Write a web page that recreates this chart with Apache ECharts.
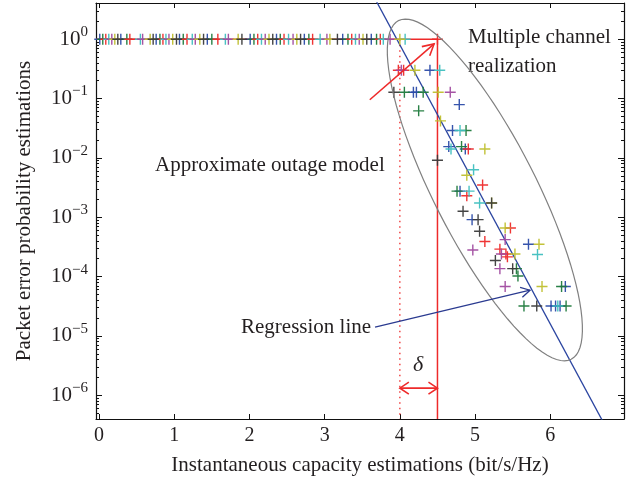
<!DOCTYPE html>
<html><head><meta charset="utf-8">
<script src="https://cdn.jsdelivr.net/npm/echarts@6/dist/echarts.min.js"></script>
<style>html,body{margin:0;padding:0;background:#fff}#c{width:635px;height:484px}</style>
</head><body><div id="c"></div>
<script>
// ---------- axes ----------
const xRange = [-0.04, 6.98];
const yRangeLog = [-6.40, 0.61];
const xTicks = [0, 1, 2, 3, 4, 5, 6];
const yDecades = [-6, -5, -4, -3, -2, -1, 0];

// ---------- channel realizations (capacity, packet error probability) ----------
const blueTop   = [0.01, 0.29, 0.76, 1.07, 1.44, 2.01, 2.36, 2.73, 3.24, 3.62];
const greenTop  = [0.05, 0.37, 0.81, 1.12, 1.50, 2.06, 2.41, 2.79, 3.31, 3.69];
const redTop    = [0.09, 0.41, 0.85, 1.17, 1.58, 2.11, 2.46, 2.84, 3.36, 3.74, 4.50];
const cyanTop   = [0.13, 0.55, 0.89, 1.24, 1.68, 2.16, 2.52, 2.94, 3.41, 3.78, 4.07];
const magentaTop= [0.17, 0.58, 0.93, 1.28, 1.72, 2.21, 2.58, 3.03, 3.46, 3.87];
const yellowTop = [0.21, 0.68, 0.98, 1.34, 1.85, 2.26, 2.63, 3.07, 3.51, 4.00];
const blackTop  = [0.25, 0.72, 1.03, 1.39, 1.90, 2.31, 2.68, 3.17, 3.56];

const blueCluster = [[4.40,0.30],[4.18,0.128],[4.22,0.128],[4.79,0.079],[4.70,0.029],[4.65,0.0155],[4.87,0.0141],[4.80,0.00275],[4.96,0.00091],[5.71,0.00035],[6.20,6.8e-5],[6.01,3.2e-5],[6.07,3.2e-5],[6.13,3.2e-5]];
const greenCluster = [[4.06,0.128],[4.31,0.128],[4.25,0.062],[4.88,0.029],[4.82,0.0155],[4.76,0.00275],[5.55,0.000136],[5.57,0.000102],[6.15,6.8e-5],[5.65,3.2e-5],[6.21,3.2e-5]];
const redCluster = [[3.98,0.30],[4.05,0.30],[4.91,0.0141],[5.10,0.0035],[4.89,0.0023],[5.47,0.00066],[5.13,0.00039],[5.33,0.00029],[5.41,0.00024],[5.43,0.000215]];
const cyanCluster = [[4.53,0.30],[4.80,0.029],[4.68,0.0141],[4.98,0.0063],[4.92,0.00275],[5.06,0.00174],[5.83,0.000235],[6.10,3.2e-5]];
const magentaCluster = [[4.02,0.30],[4.67,0.128],[5.40,0.00042],[4.97,0.00028],[5.35,0.00024],[5.33,0.000136],[5.40,6.8e-5]];
const yellowCluster = [[4.20,0.30],[4.51,0.128],[4.54,0.042],[5.13,0.0141],[4.89,0.0051],[5.22,0.00174],[5.40,0.00066],[5.85,0.00035],[5.53,0.00024],[5.89,6.8e-5]];
const blackCluster = [[3.92,0.128],[4.50,0.0091],[5.22,0.00174],[4.84,0.00126],[5.04,0.00091],[5.06,0.00058],[5.27,0.000187],[5.50,0.000136],[5.82,3.2e-5]];

// ---------- model lines ----------
const outageCapacity = 4.5;
const approxCapacity = 4.0;
const regressionLine = [[3.60, 7.0], [6.80, 2.09e-7]];

// ---------- annotation geometry (data space: capacity, log10 probability) ----------
const ellipseCenter = [5.13, -2.54];
const ellipseAxisA = [1.148, -2.853];
const ellipseAxisB = [-0.604, -0.391];
const redArrow = [[3.60, -1.02], [4.455, -0.08]];
const blueArrow = [[3.67, -4.85], [5.73, -4.23]];
const deltaArrowLog = -5.88;

const FONT = 'Liberation Serif';
const TXT = '#231f20';
const colors = {blue:'#2b4ba8', green:'#1e7a3c', red:'#ee2a2a', cyan:'#3fbfbf', magenta:'#a04a9f', yellow:'#bfbf2e', black:'#3a3a3a'};

const realizations = [
  {c: colors.blue, top: blueTop, cl: blueCluster},
  {c: colors.green, top: greenTop, cl: greenCluster},
  {c: colors.red, top: redTop, cl: redCluster},
  {c: colors.cyan, top: cyanTop, cl: cyanCluster},
  {c: colors.magenta, top: magentaTop, cl: magentaCluster},
  {c: colors.yellow, top: yellowTop, cl: yellowCluster},
  {c: colors.black, top: blackTop, cl: blackCluster}
];
const L = v => Math.log10(v);

const minorVals = [];
for (let n = -7; n <= 0; n++) for (let k = 2; k <= 9; k++) {
  const v = n + Math.log10(k);
  if (v > yRangeLog[0] && v < yRangeLog[1]) minorVals.push(v);
}

const PLUS = 'path://M0,6L12,6M6,0L6,12';
const series = [];

series.push({type:'line', xAxisIndex:0, yAxisIndex:0, symbol:'none', silent:true, z:3,
  lineStyle:{color:colors.red, width:1.5},
  data:[[xRange[0], L(1)], [outageCapacity, L(1)], [outageCapacity, yRangeLog[0]]]});
series.push({type:'line', xAxisIndex:0, yAxisIndex:0, symbol:'none', silent:true, z:3,
  lineStyle:{color:colors.red, width:1.3, type:[1.5,4]},
  data:[[approxCapacity, L(1)], [approxCapacity, yRangeLog[0]]]});
series.push({type:'line', xAxisIndex:0, yAxisIndex:0, symbol:'none', silent:true, z:4, clip:true,
  lineStyle:{color:'#2a44a0', width:1.3},
  data: regressionLine.map(p => [p[0], L(p[1])])});

realizations.forEach(r => {
  series.push({type:'scatter', xAxisIndex:0, yAxisIndex:0, symbol:PLUS, symbolSize:11, z:5,
    itemStyle:{color:r.c, borderColor:r.c, borderWidth:1.4, opacity:0.95},
    data: r.top.map(x => [x, L(1)]).concat(r.cl.map(p => [p[0], L(p[1])]))});
});

function chevron(T, S, len, half) {
  const dx = T[0]-S[0], dy = T[1]-S[1], d = Math.hypot(dx, dy);
  const ux = dx/d, uy = dy/d, nx = -uy, ny = ux;
  return [[T[0]-len*ux+half*nx, T[1]-len*uy+half*ny], T, [T[0]-len*ux-half*nx, T[1]-len*uy-half*ny]];
}

series.push({type:'custom', xAxisIndex:0, yAxisIndex:0, silent:true, z:6, clip:false,
  data:[[0,0]],
  renderItem: function(params, api) {
    const pts = [];
    for (let i = 0; i <= 96; i++) {
      const t = i/96*2*Math.PI;
      pts.push(api.coord([ellipseCenter[0] + Math.cos(t)*ellipseAxisA[0] + Math.sin(t)*ellipseAxisB[0],
                          ellipseCenter[1] + Math.cos(t)*ellipseAxisA[1] + Math.sin(t)*ellipseAxisB[1]]));
    }
    const rs = api.coord(redArrow[0]), rt = api.coord(redArrow[1]);
    const bs = api.coord(blueArrow[0]), bt = api.coord(blueArrow[1]);
    const d1 = api.coord([approxCapacity, deltaArrowLog]), d2 = api.coord([outageCapacity, deltaArrowLog]);
    const red = {stroke: colors.red, lineWidth: 1.6, fill:null};
    const blue = {stroke: '#2a3a90', lineWidth: 1.3, fill:null};
    return {type:'group', children:[
      {type:'polyline', shape:{points:pts}, style:{stroke:'#808080', lineWidth:1.2, fill:null}},
      {type:'line', shape:{x1:rs[0], y1:rs[1], x2:rt[0], y2:rt[1]}, style:red},
      {type:'polyline', shape:{points:chevron(rt, rs, 11, 6)}, style:red},
      {type:'line', shape:{x1:bs[0], y1:bs[1], x2:bt[0], y2:bt[1]}, style:blue},
      {type:'polyline', shape:{points:chevron(bt, bs, 9, 5)}, style:blue},
      {type:'line', shape:{x1:d1[0], y1:d1[1], x2:d2[0], y2:d2[1]}, style:red},
      {type:'polyline', shape:{points:chevron(d1, d2, 9, 6)}, style:red},
      {type:'polyline', shape:{points:chevron(d2, d1, 9, 6)}, style:red}
    ]};
  }
});

const axisLineStyle = {onZero:false, lineStyle:{color:'#111', width:1.2}};
const baseX = {type:'value', min:xRange[0], max:xRange[1], splitLine:{show:false}, axisLine:axisLineStyle};
const baseY = {type:'value', min:yRangeLog[0], max:yRangeLog[1], splitLine:{show:false}, axisLine:axisLineStyle};
const hiddenLine = {show:false, onZero:false};

const option = {
  animation:false,
  backgroundColor:'#fff',
  grid:{left:96, right:11, top:3, bottom:65},
  xAxis:[
    Object.assign({}, baseX, {position:'bottom',
      name:'Instantaneous capacity estimations (bit/s/Hz)', nameLocation:'middle', nameGap:36,
      nameTextStyle:{fontFamily:FONT, fontSize:21, color:TXT},
      axisTick:{inside:true, length:5, customValues:xTicks, lineStyle:{color:'#111'}},
      axisLabel:{customValues:xTicks, margin:7, fontFamily:FONT, fontSize:20, color:TXT}}),
    Object.assign({}, baseX, {position:'top',
      axisTick:{inside:true, length:5, customValues:xTicks, lineStyle:{color:'#111'}},
      axisLabel:{show:false}})
  ],
  yAxis:[
    Object.assign({}, baseY, {position:'left',
      name:'Packet error probability estimations', nameLocation:'middle', nameGap:61,
      nameTextStyle:{fontFamily:FONT, fontSize:21, color:TXT},
      axisTick:{inside:true, length:6, customValues:yDecades, lineStyle:{color:'#111'}},
      axisLabel:{customValues:yDecades, margin:8, fontFamily:FONT, color:TXT,
        formatter: v => { const n = Math.round(v); return '{b|10}{s|' + (n === 0 ? '0' : '\u2212' + Math.abs(n)) + '}'; },
        rich:{b:{fontFamily:FONT, fontSize:21, color:TXT}, s:{fontFamily:FONT, fontSize:15, color:TXT, padding:[0,0,14,0]}}}}),
    Object.assign({}, baseY, {position:'left', axisLine:hiddenLine,
      axisTick:{inside:true, length:3, customValues:minorVals, lineStyle:{color:'#111'}},
      axisLabel:{show:false}}),
    Object.assign({}, baseY, {position:'right',
      axisTick:{inside:true, length:6, customValues:yDecades, lineStyle:{color:'#111'}},
      axisLabel:{show:false}}),
    Object.assign({}, baseY, {position:'right', axisLine:hiddenLine,
      axisTick:{inside:true, length:3, customValues:minorVals, lineStyle:{color:'#111'}},
      axisLabel:{show:false}})
  ],
  graphic:[
    {type:'text', x:468, y:37, style:{text:'Multiple channel', font:'21px "Liberation Serif"', fill:TXT, verticalAlign:'middle'}},
    {type:'text', x:468, y:66, style:{text:'realization', font:'21px "Liberation Serif"', fill:TXT, verticalAlign:'middle'}},
    {type:'text', x:155, y:165, style:{text:'Approximate outage model', font:'21px "Liberation Serif"', fill:TXT, verticalAlign:'middle'}},
    {type:'text', x:241, y:327, style:{text:'Regression line', font:'21px "Liberation Serif"', fill:TXT, verticalAlign:'middle'}},
    {type:'text', x:418, y:365, style:{text:'\u03b4', font:'italic 22px "Liberation Serif"', fill:TXT, align:'center', verticalAlign:'middle'}}
  ],
  series: series
};
const chart = echarts.init(document.getElementById('c'), null, {renderer:'canvas'});
chart.setOption(option);
</script></body></html>
